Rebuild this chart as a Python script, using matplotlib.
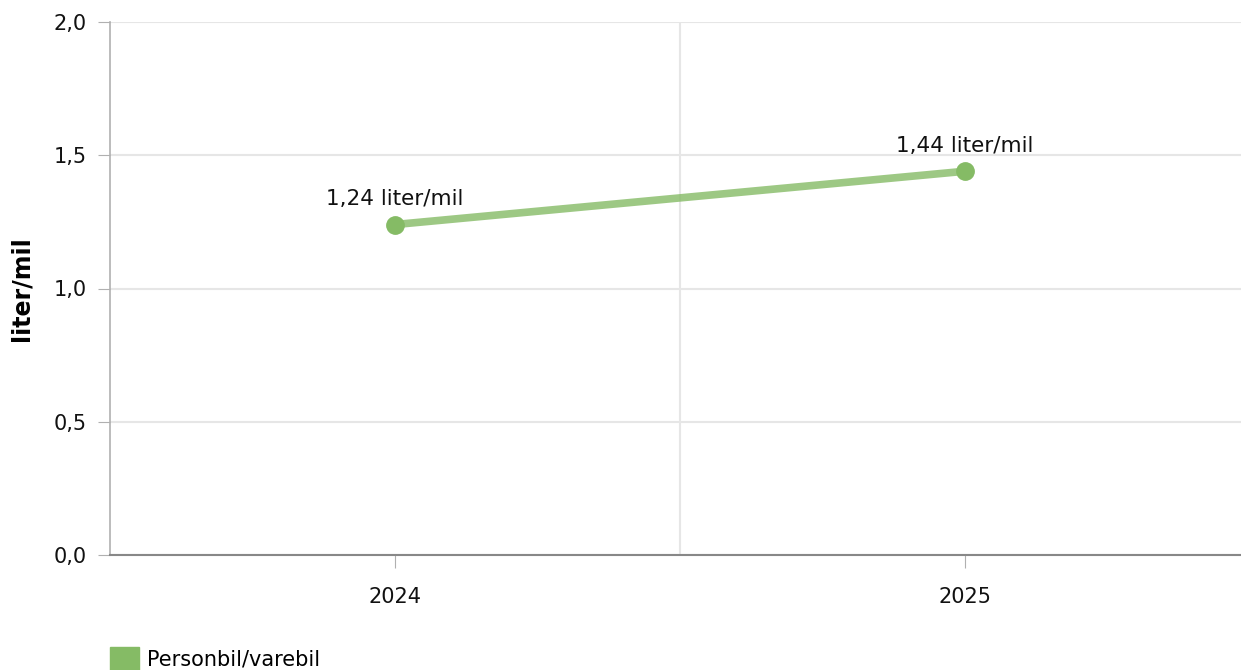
import matplotlib.pyplot as plt
from matplotlib.patches import Patch

# Drivstofforbruk per år
years = ["2024", "2025"]
values = [1.24, 1.44]
labels = ["1,24 liter/mil", "1,44 liter/mil"]
series = "Personbil/varebil"
yticks = [0.0, 0.5, 1.0, 1.5, 2.0]
ytick_labels = ["0,0", "0,5", "1,0", "1,5", "2,0"]

green = "#85bb65"

fig = plt.figure(figsize=(12.41, 6.70), dpi=100)
ax = fig.add_axes([110 / 1241, 115 / 670, 1131 / 1241, 533 / 670])

x = list(range(len(years)))
ax.plot(x, values, color=green, alpha=0.8, lw=5.5, solid_capstyle="butt", zorder=3)
ax.plot(x, values, "o", color=green, ms=12.5, zorder=4)
for xi, v, lab in zip(x, values, labels):
    ax.annotate(lab, (xi, v), xytext=(0, 11), textcoords="offset points",
                ha="center", va="bottom", fontsize=15.5, color="#111111")

ax.set_xlim(-0.5, 1.484)
ax.set_ylim(0, 2.0)
ax.set_xticks(x)
ax.set_xticklabels(years)
ax.set_yticks(yticks)
ax.set_yticklabels(ytick_labels)
ax.set_xticks([0.5], minor=True)

ax.grid(axis="y", color="#e6e6e6", lw=1.5)
ax.grid(axis="x", which="minor", color="#e6e6e6", lw=1.5)
ax.set_axisbelow(True)

for s in ["top", "right"]:
    ax.spines[s].set_visible(False)
ax.spines["left"].set_color("#b0b0b0")
ax.spines["left"].set_linewidth(1.2)
ax.spines["bottom"].set_color("#888888")
ax.spines["bottom"].set_linewidth(1.5)

ax.tick_params(axis="y", length=9, color="#b0b0b0", labelsize=15, pad=8, labelcolor="#111111")
ax.tick_params(axis="x", which="major", length=9, color="#b0b0b0", labelsize=15, pad=14, labelcolor="#111111")
ax.tick_params(axis="x", which="minor", length=0)

ax.set_ylabel("liter/mil", fontsize=17, fontweight="bold", labelpad=14)

fig.legend(handles=[Patch(color=green, label=series)], loc="upper left",
           bbox_to_anchor=(95 / 1241, 1 - 632 / 670), frameon=False,
           fontsize=15, handlelength=1.4, handleheight=1.4, handletextpad=0.4,
           borderaxespad=0.3)

fig.savefig("out.png", dpi=100)
